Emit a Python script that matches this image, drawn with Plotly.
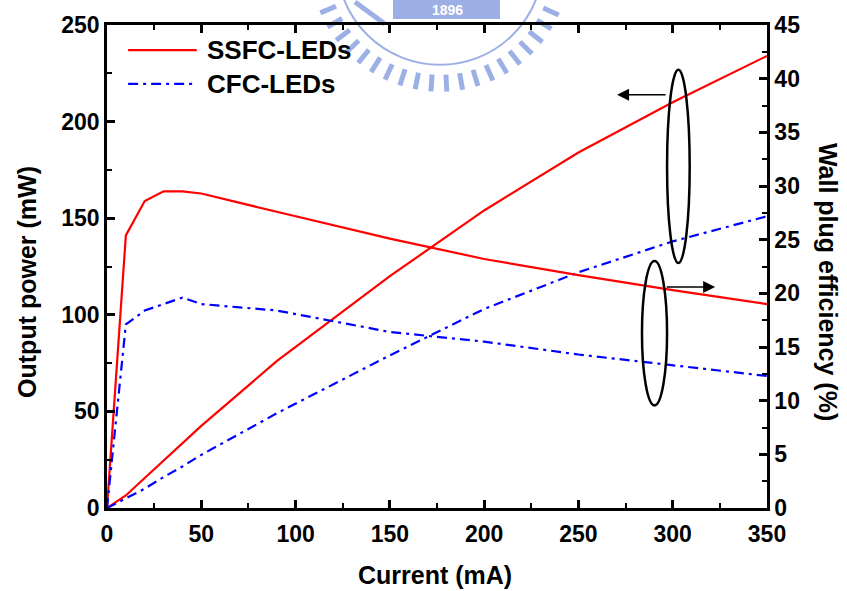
import math
import plotly.graph_objects as go

current = [0, 10, 20, 30, 40, 50, 90, 150, 200, 250, 300, 350]
ssfc_power = [0, 6.5, 15.5, 24.5, 33.5, 42.5, 76, 120, 154, 184, 210, 234]
cfc_power = [0, 5, 10, 16, 21.5, 27.5, 49, 79, 103, 122, 138, 151]
ssfc_wpe = [0, 25.4, 28.6, 29.5, 29.5, 29.3, 27.6, 25.1, 23.2, 21.7, 20.3, 19.0]
cfc_wpe = [0, 17.1, 18.4, 19.0, 19.6, 19.0, 18.4, 16.4, 15.5, 14.3, 13.3, 12.3]

legend_names = ["SSFC-LEDs", "CFC-LEDs"]
x_title = "Current (mA)"
y_title = "Output power (mW)"
y2_title = "Wall plug efficiency (%)"
watermark_text = "1896"

RED = "#ff0000"
BLUE = "#0000ff"
WM = "#9db0e6"
DASHDOT = "10px,5px,3px,5px"
FONT = "Liberation Sans, Arial, sans-serif"

W, H = 847, 591
L, R, T, B = 107, 80, 23, 83
PW, PH = W - L - R, H - T - B


def px(x):
    return (x - L) / PW


def py(y):
    return (H - B - y) / PH


fig = go.Figure()
fig.add_trace(go.Scatter(x=current, y=ssfc_power, mode="lines", line=dict(color=RED, width=2.2), showlegend=False))
fig.add_trace(go.Scatter(x=current, y=cfc_power, mode="lines", line=dict(color=BLUE, width=2.2, dash=DASHDOT), showlegend=False))
fig.add_trace(go.Scatter(x=current, y=ssfc_wpe, mode="lines", yaxis="y2", line=dict(color=RED, width=2.2), showlegend=False))
fig.add_trace(go.Scatter(x=current, y=cfc_wpe, mode="lines", yaxis="y2", line=dict(color=BLUE, width=2.2, dash=DASHDOT), showlegend=False))

tickfont = dict(family=FONT, size=23, color="black", weight="bold")
titlefont = dict(family=FONT, size=25, color="black", weight="bold")

axis_common = dict(showgrid=False, zeroline=False, showline=True, linecolor="black", linewidth=2.5,
                   ticks="inside", ticklen=8, tickwidth=2.5, tickcolor="black", tickfont=tickfont)

fig.update_layout(
    width=W, height=H,
    margin=dict(l=L, r=R, t=T, b=B),
    plot_bgcolor="rgba(0,0,0,0)", paper_bgcolor="white",
    xaxis=dict(range=[0, 350], dtick=50, tick0=0, mirror="ticks", ticklabelstandoff=4,
               minor=dict(dtick=25, ticks="inside", ticklen=5, tickwidth=2, tickcolor="black"),
               **axis_common),
    yaxis=dict(range=[0, 250], dtick=50, tick0=0,
               minor=dict(dtick=25, ticks="inside", ticklen=5, tickwidth=2, tickcolor="black"),
               **axis_common),
    yaxis2=dict(range=[0, 45], dtick=5, tick0=0, overlaying="y", side="right",
                minor=dict(dtick=2.5, ticks="inside", ticklen=5, tickwidth=2, tickcolor="black"),
                **axis_common),
)

# axis titles placed as in the reference
fig.add_annotation(x=px(435), y=py(575), xref="paper", yref="paper", text=x_title, showarrow=False,
                   font=titlefont, xanchor="center", yanchor="middle")
fig.add_annotation(x=px(27), y=py(281), xref="paper", yref="paper", text=y_title, showarrow=False,
                   font=titlefont, textangle=-90, xanchor="center", yanchor="middle")
fig.add_annotation(x=px(828), y=py(281), xref="paper", yref="paper", text=y2_title, showarrow=False,
                   font=titlefont, textangle=90, xanchor="center", yanchor="middle")

# faint emblem watermark at the top (decorative)
cx, cy, r_in, r_out = 440, -40, 113, 130
ang = -25
while ang <= 205:
    a = math.radians(ang)
    x0, y0 = cx + r_in * math.cos(a), cy + r_in * math.sin(a)
    x1, y1 = cx + r_out * math.cos(a), cy + r_out * math.sin(a)
    if y1 > 0:
        fig.add_shape(type="line", xref="paper", yref="paper", x0=px(x0), y0=py(y0), x1=px(x1), y1=py(y1),
                      line=dict(color=WM, width=5), layer="below")
    ang += 7
fig.add_shape(type="circle", xref="paper", yref="paper", x0=px(cx - 103), x1=px(cx + 103),
              y0=py(cy + 103), y1=py(cy - 103), line=dict(color=WM, width=2), layer="below")
fig.add_shape(type="rect", xref="paper", yref="paper", x0=px(393), x1=px(500), y0=py(17), y1=py(-5),
              fillcolor=WM, line=dict(width=0), layer="below")
fig.add_annotation(x=px(447), y=py(8), xref="paper", yref="paper", text=watermark_text, showarrow=False,
                   font=dict(family=FONT, size=14, color="white", weight="bold"), yanchor="middle")
fig.add_shape(type="line", xref="paper", yref="paper", x0=px(355), y0=py(0), x1=px(385), y1=py(22),
              line=dict(color=WM, width=5), layer="below")

# ellipses grouping the curves
fig.add_shape(type="circle", xref="x", yref="y", x0=297, x1=309, y0=126.8, y1=226.8,
              line=dict(color="black", width=2.5))
fig.add_shape(type="circle", xref="x", yref="y", x0=283.7, x1=297, y0=53.1, y1=127.8,
              line=dict(color="black", width=2.5))

# arrows
fig.add_annotation(x=270.5, y=213.9, ax=297, ay=213.9, xref="x", yref="y", axref="x", ayref="y",
                   text="", showarrow=True, arrowhead=2, arrowsize=1.5, arrowwidth=1.6, arrowcolor="black")
fig.add_annotation(x=322.5, y=114.4, ax=296, ay=114.4, xref="x", yref="y", axref="x", ayref="y",
                   text="", showarrow=True, arrowhead=2, arrowsize=1.5, arrowwidth=1.6, arrowcolor="black")

# manual legend
legend_y = [0.948, 0.878]
legend_styles = [dict(color=RED, width=2.2), dict(color=BLUE, width=2.2, dash=DASHDOT)]
for name, ly, st in zip(legend_names, legend_y, legend_styles):
    fig.add_shape(type="line", xref="x domain", yref="y domain", x0=0.032, x1=0.136, y0=ly, y1=ly, line=st)
    fig.add_annotation(x=0.148, y=ly, xref="x domain", yref="y domain", text=name, showarrow=False,
                       xanchor="left", yanchor="middle", font=dict(family=FONT, size=26, color="black", weight="bold"))

fig.write_html("out.html")
